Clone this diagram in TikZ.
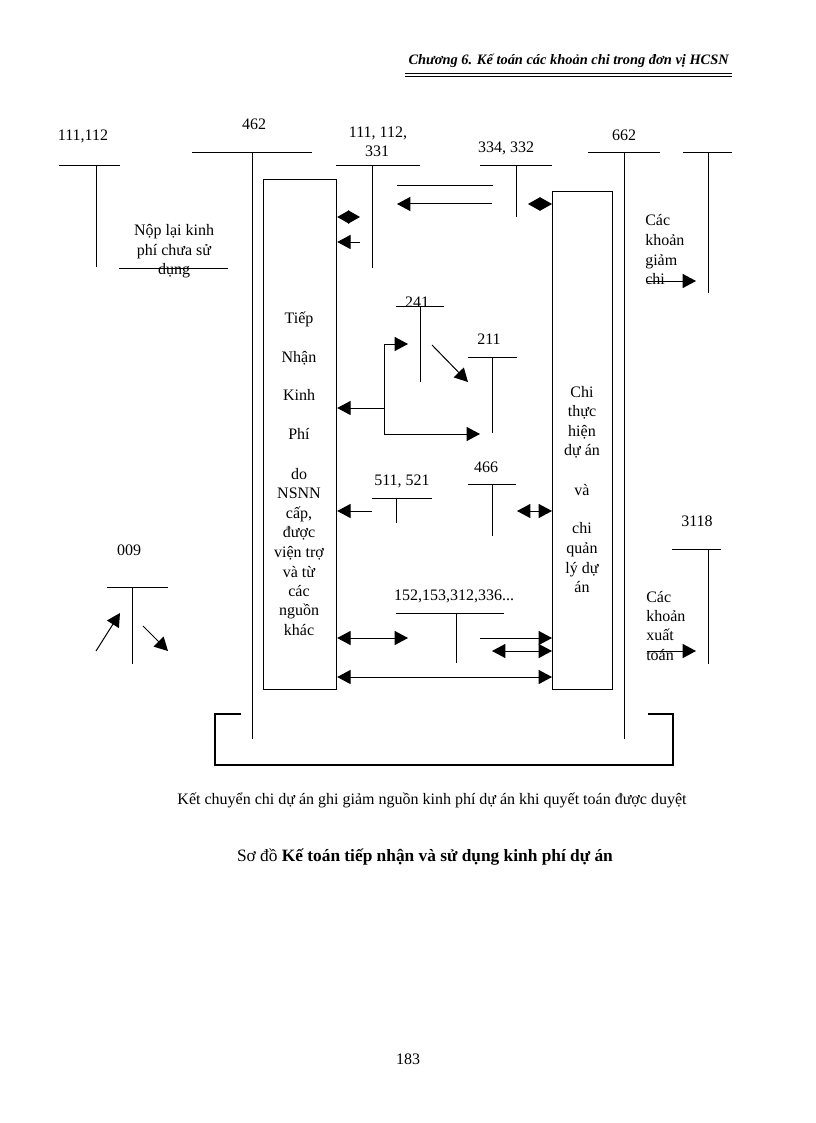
\documentclass[tikz,border=0pt]{standalone}
\usepackage{fontspec}
\setmainfont{Liberation Serif}
\usetikzlibrary{arrows.meta}
\newcommand\myfs{\fontsize{12}{14.4}\selectfont}
\begin{document}
\begin{tikzpicture}[x=0.75pt,y=-0.75pt,
  >={Triangle[length=10pt,width=10.5pt]},
  ln/.style={line width=0.75pt},
  dmd/.style={line width=0.75pt, {Triangle[length=9pt,width=10pt]}-{Triangle[length=9pt,width=10pt]}},
  txt/.style={font=\myfs, inner sep=0pt, anchor=base},
  txtl/.style={font=\myfs, inner sep=0pt, anchor=base west},
  box/.style={draw, line width=0.9pt, inner sep=0pt, anchor=north west}]
\useasboundingbox[fill=white] (0,0) rectangle (816,1123);

% header
\node[txt, anchor=base east, font=\fontsize{10.8}{13}\selectfont\bfseries\itshape] (hdr) at (729,65) {Chương 6. Kế toán các khoản chi trong đơn vị HCSN};
\coordinate (h1) at (405,73.5); \coordinate (h2) at (732,73.5);
\coordinate (h3) at (405,76.5); \coordinate (h4) at (732,76.5);
\draw[line width=1.3pt] (h1) -- (h2);
\draw[line width=0.5pt] (h3) -- (h4);

% boxes
\node[box, minimum width=54.75pt, minimum height=382.5pt] (lbox) at (263,179) {};
\node[box, minimum width=45pt, minimum height=373.5pt] (rbox) at (552,191) {};

\foreach \t/\y [count=\i] in {Tiếp/323, Nhận/362, Kinh/400, Phí/439, do/479, NSNN/498, {cấp,}/518, được/537, viện trợ/557, và từ/577, các/596, nguồn/615, khác/635}
  \node[txt] (lt\i) at (299,\y) {\t};
\foreach \t/\y [count=\i] in {Chi/397, thực/416, hiện/436, dự án/455, và/495, chi/533, quản/553, lý dự/573, án/592}
  \node[txt] (rt\i) at (582,\y) {\t};

% T 111,112 (left)
\node[txt] (a1) at (83,141) {111,112};
\draw[ln] (59,166) -- (120,166) (96,166) -- (96,267);
\node[txt] (np1) at (174,235) {Nộp lại kinh};
\node[txt] (np2) at (174,255) {phí chưa sử};
\node[txt] (np3) at (174,274) {dụng};
\draw[ln] (119,268) -- (228,268);

% T 462
\node[txt] (a462) at (254,130) {462};
\draw[ln] (192,153) -- (312,153) (252,153) -- (252,739);

% T 111,112,331
\node[txt] (a2) at (378,138) {111, 112,};
\node[txt] (a2b) at (377,157) {331};
\draw[ln] (336,166) -- (420,166) (372,166) -- (372,268);
\draw[dmd] (lbox.east |- 0,217) -- (360,217);
\draw[ln,->] (360,242) -- (lbox.east |- 0,242);

\draw[ln] (397,186) -- (493,186);
\draw[ln,->] (492,204) -- (397,204);

% T 334,332
\node[txt] (a334) at (506,153) {334, 332};
\draw[ln] (480,166) -- (552,166) (516,166) -- (516,217);
\draw[dmd] (528,204) -- (rbox.west |- 0,204);

% T 662
\node[txt] (a662) at (624,141) {662};
\draw[ln] (588,153) -- (660,153) (624,153) -- (624,739);

% right T (giam chi)
\draw[ln] (683,153) -- (732,153) (708,153) -- (708,293);
\node[txtl] (g1) at (645,225) {Các};
\node[txtl] (g2) at (645,245) {khoản};
\node[txtl] (g3) at (645,265) {giảm};
\node[txtl] (g4) at (645,284) {chi};
\draw[ln,->] (647,281) -- (696,281);

% T 241
\node[txt] (a241) at (417,307) {241};
\draw[ln] (396,306) -- (444,306) (420,306) -- (420,382);
\draw[ln,->] (432,345) -- (468,382);

% T 211
\node[txt] (a211) at (489,344) {211};
\draw[ln] (468,357) -- (517,357) (492,357) -- (492,433);

\coordinate (br) at (384,408);
\draw[ln,->] (br) |- (408,344);
\draw[ln,->] (br) -- (lbox.east |- br);
\draw[ln,->] (br) |- (480,434);

% T 466
\node[txt] (a466) at (486,472) {466};
\draw[ln] (468,484) -- (516,484) (492,484) -- (492,536);
\draw[ln,<->] (517,511) -- (rbox.west |- 0,511);

% T 511,521
\node[txt] (a511) at (402,485) {511, 521};
\draw[ln] (372,498) -- (432,498) (396,498) -- (396,523);
\draw[ln,->] (372,511) -- (lbox.east |- 0,511);

% T 152...
\node[txt] (a152) at (454,600) {152,153,312,336...};
\draw[ln] (396,613) -- (504,613) (456,613) -- (456,663);
\draw[ln,<->] (lbox.east |- 0,638) -- (408,638);
\draw[ln,->] (480,638) -- (rbox.west |- 0,638);
\draw[ln,<->] (492,651) -- (rbox.west |- 0,651);
\draw[ln,<->] (lbox.east |- 0,677) -- (rbox.west |- 0,677);

% T 009
\node[txt] (a009) at (129,555) {009};
\draw[ln] (107,587) -- (168,587) (132,587) -- (132,664);
\draw[ln,->] (96,651) -- (120,613);
\draw[ln,->] (143,626) -- (168,651);

% T 3118
\node[txt] (a3118) at (697,526) {3118};
\draw[ln] (672,549) -- (721,549) (708,549) -- (708,664);
\node[txtl] (x1) at (646,602) {Các};
\node[txtl] (x2) at (646,621) {khoản};
\node[txtl] (x3) at (646,640) {xuất};
\node[txtl] (x4) at (646,660) {toán};
\draw[ln,->] (647,651) -- (696,651);

% bottom bracket
\draw[line width=2.2pt] (241,714) -| (215,765) -| (673,714) -- (648,714);

\node[txt] (cap) at (432,804) {Kết chuyển chi dự án ghi giảm nguồn kinh phí dự án khi quyết toán được duyệt};
\node[txt, font=\fontsize{13}{15.6}\selectfont] (ttl) at (425,861) {Sơ đồ \textbf{Kế toán tiếp nhận và sử dụng kinh phí dự án}};
\node[txt] (pg) at (408,1064) {183};
\end{tikzpicture}
\end{document}
